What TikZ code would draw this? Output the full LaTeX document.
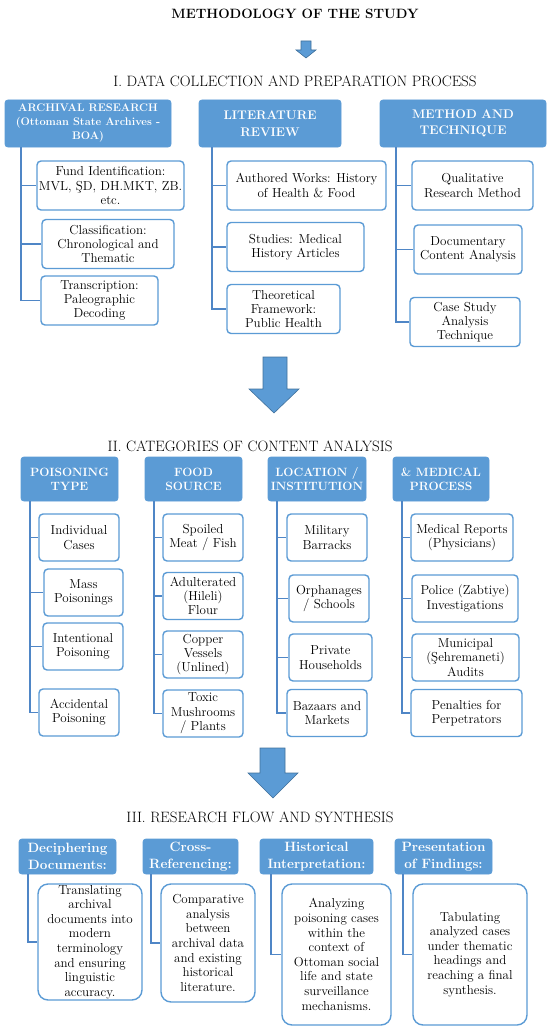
\documentclass[tikz,border=0pt]{standalone}
\usepackage{fontspec}
\definecolor{hdblue}{HTML}{5B9BD5}
\definecolor{lnblue}{HTML}{4F86C6}
\definecolor{edgeblue}{HTML}{41719C}
\begin{document}
\begin{tikzpicture}[x=1pt, y=-1pt, auto, thick]
	\tikzstyle{head} = [rectangle, rounded corners=3pt, fill=hdblue, draw=hdblue, text=white, font=\bfseries\fontsize{12}{14}\selectfont, align=center, inner sep=1pt]
	\tikzstyle{item} = [rectangle, rounded corners=4pt, draw=hdblue, line width=1.4pt, fill=white, font=\fontsize{13}{14.3}\selectfont, align=center, inner sep=1pt]
	\tikzstyle{desc} = [item, rounded corners=10pt, font=\fontsize{13}{14.6}\selectfont]
	\tikzstyle{conn} = [draw=lnblue, line width=1.8pt]
	\tikzstyle{blockarrow} = [fill=hdblue, draw=edgeblue, line width=0.6pt]
	\tikzstyle{heading} = [font=\fontsize{15}{18}\selectfont, inner sep=0pt]

	\useasboundingbox (0,0) rectangle (550,1030);

	\node[font=\bfseries\fontsize{13.5}{16}\selectfont, inner sep=0pt] (title) at (295,14) {METHODOLOGY OF THE STUDY};
	\filldraw[blockarrow] (301,41) -- (311,41) -- (311,50) -- (316,50) -- (306,58) -- (296,50) -- (301,50) -- cycle;

	% I. data collection
	\node[heading] (sec1) at (295,81.5) {I. DATA COLLECTION AND PREPARATION PROCESS};
	\node[head, minimum width=166, minimum height=47, font=\bfseries\fontsize{11}{14}\selectfont] (A) at (88,123.5) {ARCHIVAL RESEARCH\\(Ottoman State Archives -\\BOA)};
	\node[head, minimum width=142, minimum height=47, font=\bfseries\fontsize{12.5}{16.5}\selectfont] (L) at (270,123.5) {LITERATURE\\REVIEW};
	\node[head, minimum width=166, minimum height=47, font=\bfseries\fontsize{12.5}{16.5}\selectfont] (M) at (463,123.5) {METHOD AND\\TECHNIQUE};

	\foreach \index/\cx/\cy/\w/\text in {1/110.5/185.5/147/{Fund Identification:\\MVL, ŞD, DH.MKT, ZB.\\etc.}, 2/108/244/132/{Classification:\\Chronological and\\Thematic}, 3/99.5/300.5/117/{Transcription:\\Paleographic\\Decoding}} {
		\node[item, minimum width=\w, minimum height=49] (A-\index) at (\cx,\cy) {\text};
		\draw[conn] ([xshift=16]A.south west) |- (A-\index.west);
	}

	\foreach \index/\cx/\cy/\w/\text in {1/306.5/185.5/159/{Authored Works: History\\of Health \& Food}, 2/295.5/247/137/{Studies: Medical\\History Articles}, 3/283.5/309/113/{Theoretical\\Framework:\\Public Health}} {
		\node[item, minimum width=\w, minimum height=49] (L-\index) at (\cx,\cy) {\text};
		\draw[conn] ([xshift=13]L.south west) |- (L-\index.west);
	}

	\foreach \index/\cx/\cy/\w/\text in {1/472.5/185.5/121/{Qualitative\\Research Method}, 2/468/249.5/108/{Documentary\\Content Analysis}, 3/465/322/110/{Case Study\\Analysis\\Technique}} {
		\node[item, minimum width=\w, minimum height=49] (M-\index) at (\cx,\cy) {\text};
		\draw[conn] ([xshift=16]M.south west) |- (M-\index.west);
	}

	\filldraw[blockarrow] (263,357) -- (287,357) -- (287,389) -- (299,389) -- (274,413) -- (249,389) -- (263,389) -- cycle;

	% II. categories
	\node[heading] (sec2) at (250,446) {II. CATEGORIES OF CONTENT ANALYSIS};
	\node[head, minimum width=97, minimum height=44] (P) at (69.5,479) {POISONING\\TYPE};
	\node[head, minimum width=97, minimum height=44] (F) at (193.5,479) {FOOD\\SOURCE};
	\node[head, minimum width=98, minimum height=44] (S) at (317,479) {LOCATION /\\INSTITUTION};
	\node[head, minimum width=96, minimum height=44] (R) at (441,479) {\& MEDICAL\\PROCESS};

	\foreach \index/\cx/\cy/\w/\text in {1/79/537.5/80/{Individual\\Cases}, 2/83.5/592.5/79/{Mass\\Poisonings}, 3/83/646.5/80/{Intentional\\Poisoning}, 4/79/712.5/80/{Accidental\\Poisoning}} {
		\node[item, minimum width=\w, minimum height=47] (P-\index) at (\cx,\cy) {\text};
		\draw[conn] ([xshift=9]P.south west) |- (P-\index.west);
	}

	\foreach \index/\cx/\cy/\w/\text in {1/203/537.5/80/{Spoiled\\Meat / Fish}, 2/203/596/80/{Adulterated\\(Hileli)\\Flour}, 3/203/654.5/80/{Copper\\Vessels\\(Unlined)}, 4/203/713.5/80/{Toxic\\Mushrooms\\/ Plants}} {
		\node[item, minimum width=\w, minimum height=47] (F-\index) at (\cx,\cy) {\text};
		\draw[conn] ([xshift=9]F.south west) |- (F-\index.west);
	}

	\foreach \index/\cx/\cy/\w/\text in {1/327/537.5/80/{Military\\Barracks}, 2/329/598.5/80/{Orphanages\\/ Schools}, 3/330.5/657.5/83/{Private\\Households}, 4/327/713/80/{Bazaars and\\Markets}} {
		\node[item, minimum width=\w, minimum height=47] (S-\index) at (\cx,\cy) {\text};
		\draw[conn] ([xshift=9]S.south west) |- (S-\index.west);
	}

	\foreach \index/\cx/\cy/\w/\text in {1/462/537.5/102/{Medical Reports\\(Physicians)}, 2/465/598.5/106/{Police (Zabtiye)\\Investigations}, 3/465.5/657.5/107/{Municipal\\(Şehremaneti)\\Audits}, 4/466.5/713/111/{Penalties for\\Perpetrators}} {
		\node[item, minimum width=\w, minimum height=47] (R-\index) at (\cx,\cy) {\text};
		\draw[conn] ([xshift=9]R.south west) |- (R-\index.west);
	}

	\filldraw[blockarrow] (260,748) -- (285,748) -- (285,773) -- (298,773) -- (273,798) -- (248,773) -- (260,773) -- cycle;

	% III. research flow
	\node[heading] (sec3) at (260,817.5) {III. RESEARCH FLOW AND SYNTHESIS};

	\foreach \index/\hx/\hw/\text in {1/67.5/97/{Deciphering\\Documents:}, 2/190.5/95/{Cross-\\Referencing:}, 3/316.5/113/{Historical\\Interpretation:}, 4/443.5/97/{Presentation\\of Findings:}} {
		\node[head, minimum width=\hw, minimum height=35, font=\bfseries\fontsize{13.5}{16.5}\selectfont] (H-\index) at (\hx,856.5) {\text};
	}

	\foreach \index/\off/\cx/\cy/\w/\h/\text in {1/9/90/942/104/116/{Translating\\archival\\documents into\\modern\\terminology\\and ensuring\\linguistic\\accuracy.}, 2/8/208/943/94/118/{Comparative\\analysis\\between\\archival data\\and existing\\historical\\literature.}, 3/11/336.5/954.5/109/141/{Analyzing\\poisoning cases\\within the\\context of\\Ottoman social\\life and state\\surveillance\\mechanisms.}, 4/8/470/954.5/114/141/{Tabulating\\analyzed cases\\under thematic\\headings and\\reaching a final\\synthesis.}} {
		\node[desc, minimum width=\w, minimum height=\h] (D-\index) at (\cx,\cy) {\text};
		\draw[conn] ([xshift=\off]H-\index.south west) |- (D-\index.west);
	}
\end{tikzpicture}
\end{document}
